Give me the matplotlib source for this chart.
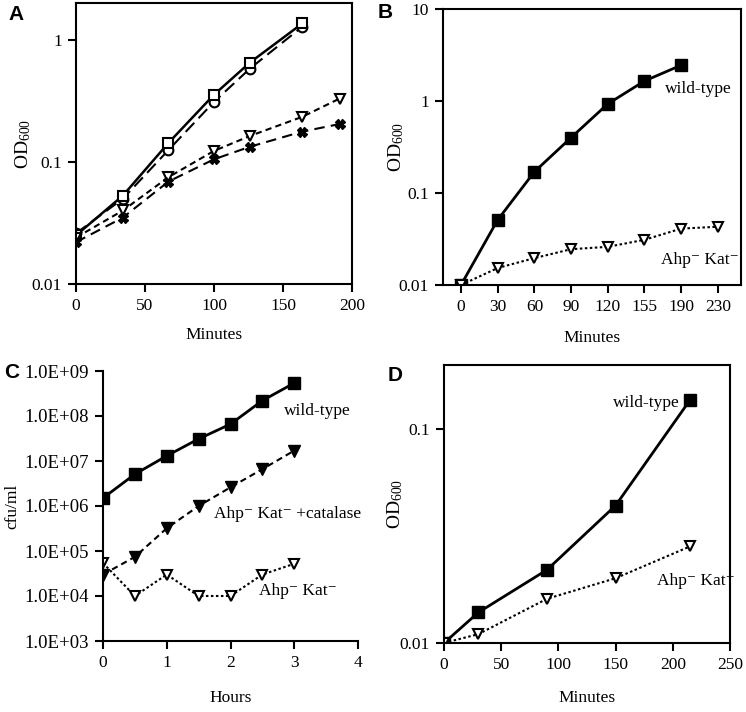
import numpy as np
import matplotlib
matplotlib.use('Agg')
import matplotlib.pyplot as plt

plt.rcParams['font.family'] = ['Liberation Serif', 'DejaVu Serif']
plt.rcParams['mathtext.fontset'] = 'custom'
plt.rcParams['mathtext.rm'] = 'Liberation Serif'
plt.rcParams['mathtext.it'] = 'Liberation Serif:italic'
plt.rcParams['font.size'] = 12.5

### Panel A data (minutes, OD600)
a_x_short = [0, 34, 67, 100, 126, 164]
a_x_long = [0, 34, 67, 100, 126, 164, 191]
a_square = [0.025, 0.053, 0.143, 0.355, 0.65, 1.36]
a_circle = [0.026, 0.050, 0.125, 0.31, 0.58, 1.28]
a_triangle = [0.024, 0.040, 0.075, 0.123, 0.163, 0.234, 0.33]
a_star = [0.022, 0.035, 0.069, 0.105, 0.133, 0.177, 0.204]

### Panel B data
b_ticklabels = ['0', '30', '60', '90', '120', '155', '190', '230']
b_wt = [0.01, 0.051, 0.17, 0.40, 0.93, 1.65, 2.45]
b_ahp = [0.01, 0.0153, 0.0196, 0.0245, 0.026, 0.031, 0.041, 0.043]

### Panel C data (hours, cfu/ml)
c_hours = [0, 0.5, 1, 1.5, 2, 2.5, 3]
c_wt = [1.5e6, 5.1e6, 1.3e7, 3.1e7, 6.6e7, 2.2e8, 5.4e8]
c_cat = [3.0e4, 7.4e4, 3.2e5, 1.0e6, 2.6e6, 6.6e6, 1.7e7]
c_ahp = [5.4e4, 1.0e4, 3.0e4, 1.0e4, 1.0e4, 3.0e4, 5.2e4]

### Panel D data
d_x = [0, 30, 90, 150, 215]
d_wt = [0.01, 0.0139, 0.022, 0.044, 0.137]
d_ahp = [0.01, 0.011, 0.0161, 0.0201, 0.0283]

ahp_kat = 'Ahp\u207b Kat\u207b'
od_label = r'OD$_{\rm 600}$'

fig = plt.figure(figsize=(7.46, 7.12), dpi=100)
W, H = 746.0, 712.0


def make_axes(left, right, top, bottom):
    ax = fig.add_axes([left / W, 1 - bottom / H, (right - left) / W, (bottom - top) / H])
    for s in ax.spines.values():
        s.set_linewidth(1.5)
    ax.tick_params(which='major', direction='out', length=6, width=1.5, pad=4)
    ax.tick_params(which='minor', length=0)
    ax.set_yscale('log')
    return ax


def open_style(marker, ms=7):
    return dict(marker=marker, markersize=ms, markerfacecolor='white',
                markeredgecolor='k', markeredgewidth=1.5, color='k')


### A
axA = make_axes(76, 352, 3, 284)
axA.plot(a_x_short, a_circle, linestyle=(0, (6, 3)), linewidth=1.5, **open_style('o'))
axA.plot(a_x_short, a_square, linestyle='-', linewidth=1.8, **open_style('s'))
axA.plot(a_x_long, a_triangle, linestyle=(0, (3, 2)), linewidth=1.5, **open_style('v'))
axA.plot(a_x_long, a_star, linestyle=(0, (5, 3)), linewidth=1.5, color='k',
         marker='X', markersize=7, markerfacecolor='k', markeredgecolor='k')
axA.set_xlim(0, 200)
axA.set_ylim(0.01, 2)
axA.set_xticks([0, 50, 100, 150, 200])
axA.set_yticks([0.01, 0.1, 1])
axA.set_yticklabels(['0.01', '0.1', '1'])
axA.set_xlabel('Minutes')
axA.set_ylabel(od_label, fontsize=14)
axA.xaxis.set_label_coords(0.5, -0.153)
axA.yaxis.set_label_coords(-0.155, 0.5)

### B
axB = make_axes(443, 741, 9, 285)
bx = np.arange(len(b_ticklabels))
axB.plot(bx[:len(b_wt)], b_wt, '-', color='k', linewidth=2, marker='s', markersize=8,
         markerfacecolor='k')
axB.plot(bx, b_ahp, linestyle=(0, (1.2, 1.2)), linewidth=1.5, **open_style('v'))
axB.set_xlim(-0.49, 7.63)
axB.set_ylim(0.01, 10)
axB.set_xticks(bx)
axB.set_xticklabels(b_ticklabels)
axB.set_yticks([0.01, 0.1, 1, 10])
axB.set_yticklabels(['0.01', '0.1', '1', '10'])
axB.set_xlabel('Minutes')
axB.set_ylabel(od_label, fontsize=14)
axB.xaxis.set_label_coords(0.5, -0.163)
axB.yaxis.set_label_coords(-0.124, 0.5)
axB.text(5.55, 1.35, 'wild-type', ha='left', va='center')
axB.text(5.45, 0.0187, ahp_kat, ha='left', va='center')

### C
axC = make_axes(103, 358, 371, 641)
axC.spines['top'].set_visible(False)
axC.spines['right'].set_visible(False)
axC.plot(c_hours, c_wt, '-', color='k', linewidth=2, marker='s', markersize=8,
         markerfacecolor='k')
axC.plot(c_hours, c_cat, linestyle=(0, (3, 2)), linewidth=1.5, color='k', marker='v',
         markersize=8, markerfacecolor='k')
axC.plot(c_hours, c_ahp, linestyle=(0, (1.2, 1.2)), linewidth=1.5, **open_style('v'))
axC.set_xlim(0, 4)
axC.set_ylim(1e3, 1e9)
axC.set_xticks([0, 1, 2, 3, 4])
c_yticks = [1e3, 1e4, 1e5, 1e6, 1e7, 1e8, 1e9]
axC.set_yticks(c_yticks)
axC.set_yticklabels(['1.0E+%02d' % int(np.log10(v)) for v in c_yticks], fontsize=13.5)
axC.set_xlabel('Hours')
axC.set_ylabel('cfu/ml')
axC.xaxis.set_label_coords(0.5, -0.181)
axC.yaxis.set_label_coords(-0.325, 0.5)
axC.text(3.37, 1.3e8, 'wild-type', ha='center', va='center')
axC.text(2.90, 6.5e5, ahp_kat + ' +catalase', ha='center', va='center')
axC.text(3.05, 1.3e4, ahp_kat, ha='center', va='center')

### D
axD = make_axes(444, 730, 365, 643)
axD.plot(d_x, d_wt, '-', color='k', linewidth=2, marker='s', markersize=8,
         markerfacecolor='k')
axD.plot(d_x, d_ahp, linestyle=(0, (1.2, 1.2)), linewidth=1.5, **open_style('v'))
axD.set_xlim(0, 250)
axD.set_ylim(0.01, 0.2)
axD.set_xticks([0, 50, 100, 150, 200, 250])
axD.set_yticks([0.01, 0.1])
axD.set_yticklabels(['0.01', '0.1'])
axD.set_xlabel('Minutes')
axD.set_ylabel(od_label, fontsize=14)
axD.xaxis.set_label_coords(0.5, -0.169)
axD.yaxis.set_label_coords(-0.136, 0.5)
axD.text(206, 0.133, 'wild-type', ha='right', va='center')
axD.text(186, 0.0196, ahp_kat, ha='left', va='center')

### Panel letters
for letter, (px, py) in zip('ABCD', [(8, 15), (378, 13), (4, 372), (388, 376)]):
    fig.text(px / W, 1 - py / H, letter, family='Liberation Sans', weight='bold',
             fontsize=15, ha='left', va='center')

fig.savefig('out.png', dpi=100)
